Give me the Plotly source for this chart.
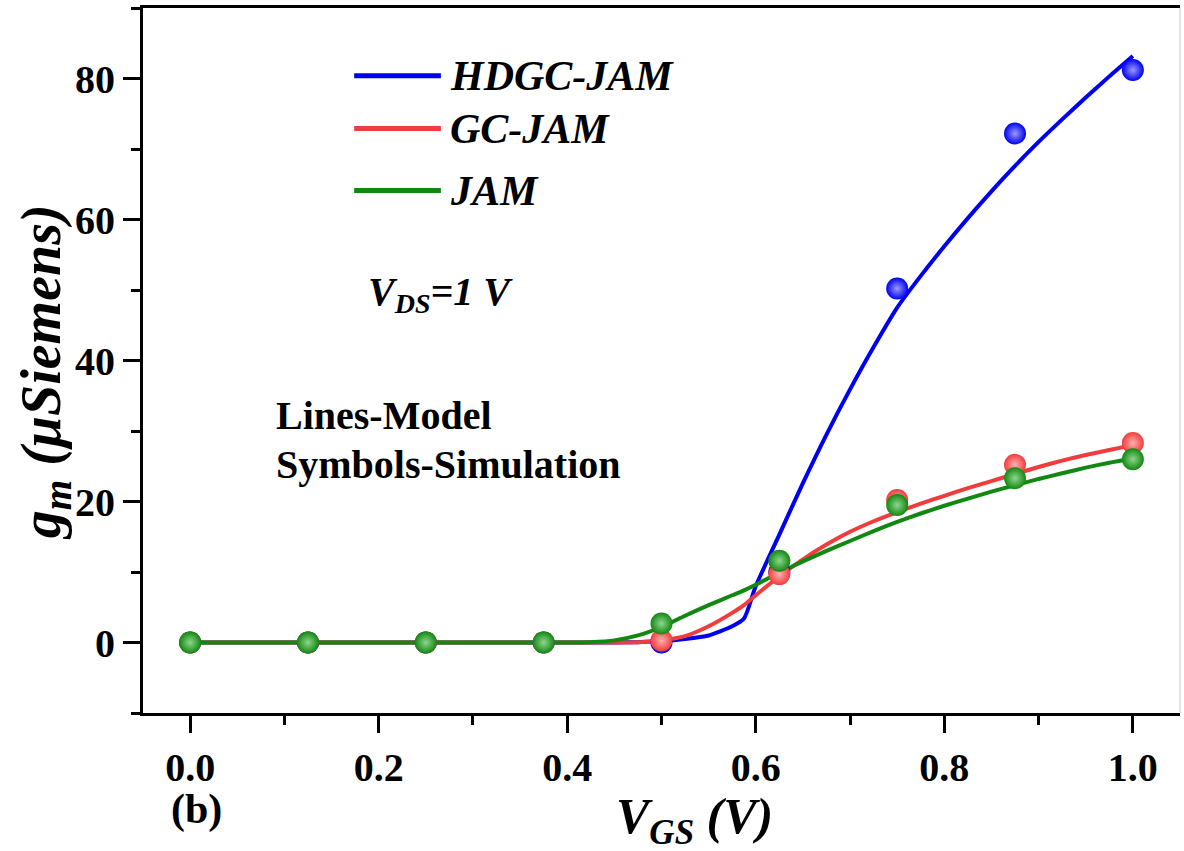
import plotly.graph_objects as go

# Simulated gate voltages (V) and transconductance (µS)
vgs_sim = [0.0, 0.125, 0.25, 0.375, 0.5, 0.625, 0.75, 0.875, 1.0]
gm_sim_hdgc = [0.0, 0.0, 0.0, 0.0, 0.0, 10.0, 50.2, 72.2, 81.2]
gm_sim_gc = [0.0, 0.0, 0.0, 0.0, 0.3, 9.7, 20.2, 25.2, 28.3]
gm_sim_jam = [0.0, 0.0, 0.0, 0.0, 2.7, 11.6, 19.5, 23.3, 26.0]

# Analytical model curves
vgs_model = [0.0, 0.1, 0.2, 0.3, 0.4, 0.425, 0.45, 0.475, 0.5, 0.525, 0.55,
             0.575, 0.5875, 0.6, 0.625, 0.65, 0.675, 0.7, 0.725, 0.75, 0.775,
             0.8, 0.825, 0.85, 0.875, 0.9, 0.925, 0.95, 0.975, 1.0]
gm_model_hdgc = [0.0, 0.0, 0.0, 0.0, 0.0, 0.0, 0.0, 0.05, 0.2, 0.5, 1.0,
                 2.3, 3.4, 8.0, 15.3, 22.6, 29.5, 35.9, 41.9, 47.5, 52.0,
                 56.2, 60.2, 64.0, 67.6, 71.0, 74.2, 77.3, 80.3, 83.2]
gm_model_gc = [0.0, 0.0, 0.0, 0.0, 0.0, 0.0, 0.0, 0.05, 0.3, 0.9, 2.3,
               4.2, 5.3, 6.7, 9.4, 11.8, 13.9, 15.7, 17.2, 18.5, 19.7,
               20.8, 21.9, 22.9, 23.9, 24.9, 25.8, 26.6, 27.3, 28.0]
gm_model_jam = [0.0, 0.0, 0.0, 0.0, 0.0, 0.05, 0.3, 1.0, 2.2, 3.8, 5.3,
                6.7, 7.4, 8.2, 9.9, 11.5, 13.0, 14.4, 15.8, 17.1, 18.3,
                19.4, 20.4, 21.4, 22.3, 23.2, 24.0, 24.8, 25.5, 26.1]

series_names = ["HDGC-JAM", "GC-JAM", "JAM"]
line_colors = ["#0000F0", "#F03C3C", "#118811"]
glow_colors = ["#9A9AFF", "#FFB0B0", "#8FD68F"]

FONT = "Liberation Serif"

fig = go.Figure()

models = [gm_model_hdgc, gm_model_gc, gm_model_jam]
sims = [gm_sim_hdgc, gm_sim_gc, gm_sim_jam]

for name, model, color in zip(series_names, models, line_colors):
    fig.add_trace(go.Scatter(
        x=vgs_model, y=model, mode="lines", name=name,
        line=dict(color=color, width=4, shape="spline", smoothing=0.6),
        showlegend=False))

for name, sim, color, glow in zip(series_names, sims, line_colors, glow_colors):
    fig.add_trace(go.Scatter(
        x=vgs_sim, y=sim, mode="markers", name=name + " (sim)",
        marker=dict(size=22, color=color, line=dict(width=0),
                    gradient=dict(type="radial", color=glow)),
        showlegend=False))

axis_common = dict(
    showline=True, linecolor="black", linewidth=3,
    ticks="outside", tickcolor="black", tickwidth=3, ticklen=17,
    showgrid=False, zeroline=False,
    tickfont=dict(family=FONT, size=40, color="black", weight="bold"),
)

fig.update_xaxes(range=[-0.05, 1.05], tick0=0, dtick=0.2, tickformat=".1f",
                 mirror=True,
                 minor=dict(dtick=0.1, ticks="outside", ticklen=9,
                            tickwidth=3, tickcolor="black"),
                 **axis_common)
fig.update_yaxes(range=[-10, 90], tick0=0, dtick=20, mirror=False,
                 minor=dict(dtick=10, ticks="outside", ticklen=9,
                            tickwidth=3, tickcolor="black"),
                 **axis_common)

annotations = []

# Hand-drawn legend: line samples with italic labels
legend_y = [80.4, 72.9, 64.1]
shapes = [dict(type="line", xref="paper", yref="paper", x0=1, x1=1,
               y0=0, y1=1, line=dict(color="#C8C8C8", width=1))]
for name, color, ly in zip(series_names, line_colors, legend_y):
    shapes.append(dict(type="line", xref="x", yref="y", x0=0.174, x1=0.266,
                       y0=ly, y1=ly, line=dict(color=color, width=5)))
    annotations.append(dict(
        x=0.2735, y=ly, xref="x", yref="y", xanchor="left", yanchor="middle",
        text="<b><i>%s</i></b>" % name, showarrow=False,
        font=dict(family=FONT, size=42, color="black")))

annotations += [
    dict(x=0.187, y=49.5, xref="x", yref="y", xanchor="left", yanchor="middle",
         text="<b><i>V<sub>DS</sub>=1 V</i></b>", showarrow=False,
         font=dict(family=FONT, size=40, color="black")),
    dict(x=0.089, y=32.2, xref="x", yref="y", xanchor="left", yanchor="middle",
         text="<b>Lines-Model</b>", showarrow=False,
         font=dict(family=FONT, size=40, color="black")),
    dict(x=0.089, y=25.2, xref="x", yref="y", xanchor="left", yanchor="middle",
         text="<b>Symbols-Simulation</b>", showarrow=False,
         font=dict(family=FONT, size=40, color="black")),
    dict(x=0.052, y=-0.137, xref="paper", yref="paper", xanchor="center",
         yanchor="middle", text="<b>(b)</b>", showarrow=False,
         font=dict(family=FONT, size=42, color="black")),
    dict(x=0.532, y=-0.152, xref="paper", yref="paper", xanchor="center",
         yanchor="middle", text="<b><i>V<sub>GS</sub> (V)</i></b>",
         showarrow=False, font=dict(family=FONT, size=50, color="black")),
    dict(x=-0.095, y=0.484, xref="paper", yref="paper", xanchor="center",
         yanchor="middle", textangle=-90,
         text="<b><i>g<sub>m</sub> (μSiemens)</i></b>",
         showarrow=False, font=dict(family=FONT, size=56, color="black")),
]

fig.update_layout(
    width=1184, height=851,
    margin=dict(l=143, r=4, t=8, b=138),
    plot_bgcolor="white", paper_bgcolor="white",
    annotations=annotations, shapes=shapes,
    showlegend=False,
)

fig.write_html("out.html")
